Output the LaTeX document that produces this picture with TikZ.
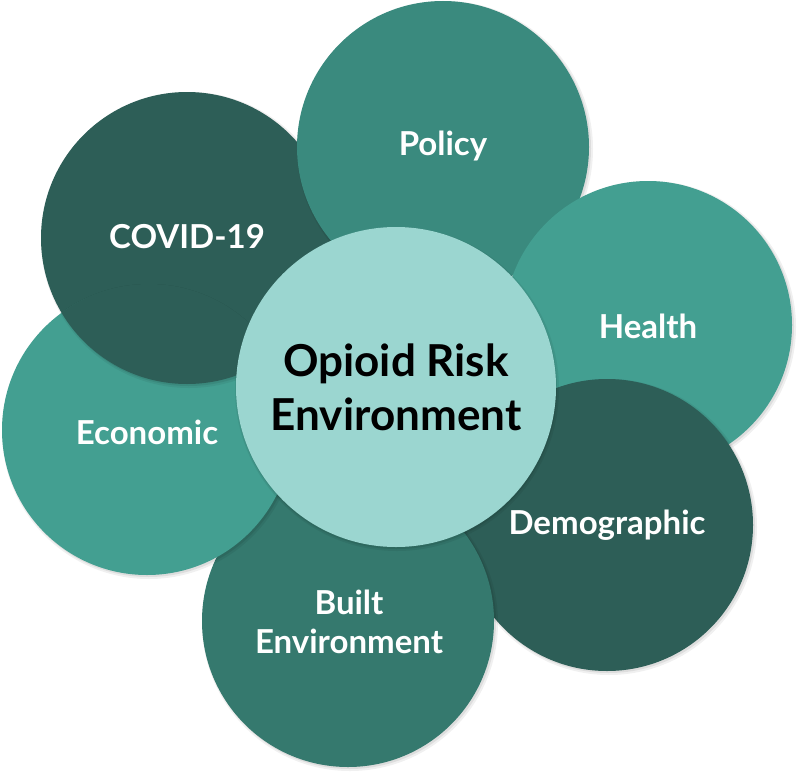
\documentclass[tikz,border=0pt]{standalone}
\usepackage{fontspec}
\setmainfont{Lato}
\definecolor{cPolicy}{HTML}{3A8A7E}
\definecolor{cCovid}{HTML}{2D5E57}
\definecolor{cHealth}{HTML}{439F91}
\definecolor{cDemo}{HTML}{2D5E57}
\definecolor{cBuilt}{HTML}{35796E}
\definecolor{cEcon}{HTML}{439F91}
\definecolor{cCenter}{HTML}{9BD6D0}
\tikzset{
  petal/.style={circle, inner sep=0pt, minimum size=#1},
  lbl/.style={text=white, font=\fontsize{33}{39}\selectfont\bfseries, align=center},
  hub/.style={circle, inner sep=0pt, minimum size=320pt, fill=cCenter, text=black,
    font=\fontsize{44}{54}\selectfont\bfseries, align=center},
}
\newcommand{\shadowdisc}[3]{%
  \fill[black, opacity=0.06] (#1+2,#2+2) circle (#3+2);
  \fill[black, opacity=0.08] (#1+1.5,#2+1.5) circle (#3+0.5);}
\begin{document}
\begin{tikzpicture}[x=1pt,y=-1pt]
\useasboundingbox (0,0) rectangle (800,776);
% COVID-19
\shadowdisc{187}{238}{146}
\node[petal=292pt, fill=cCovid] (covid) at (187,238) {};
% Policy
\shadowdisc{443}{147}{146}
\node[petal=292pt, fill=cPolicy] (policy) at (443,147) {};
% Health
\shadowdisc{648}{325}{144}
\node[petal=288pt, fill=cHealth] (health) at (648,325) {};
% Demographic
\shadowdisc{607}{525}{146}
\node[petal=292pt, fill=cDemo] (demo) at (607,525) {};
% Built Environment
\shadowdisc{348}{621}{146}
\node[petal=292pt, fill=cBuilt] (built) at (348,621) {};
% Economic
\shadowdisc{147}{430}{145}
\node[petal=290pt, fill=cEcon] (econ) at (147,430) {};
% COVID-19 over Economic (and over its shadow)
\begin{scope}
  \clip (149,432) circle (148);
  \shadowdisc{187}{238}{146}
  \fill[cCovid] (187,238) circle (146);
\end{scope}
% labels
\node[lbl] (tpolicy) at ([yshift=1pt]policy.center) {Policy};
\node[lbl] (tcovid) at ([yshift=1pt]covid.center) {COVID-19};
\node[lbl] (thealth) at ([yshift=-1pt]health.center) {Health};
\node[lbl] (tdemo) at ([yshift=0pt]demo.center) {Demographic};
\node[lbl] (tbuilt) at (349,622) {Built\\Environment};
\node[lbl] (tecon) at ([yshift=-2pt]econ.center) {Economic};
% hub
\shadowdisc{395}{387}{160}
\node[hub] (hub) at (396,387) {Opioid Risk\\Environment};
\end{tikzpicture}
\end{document}
